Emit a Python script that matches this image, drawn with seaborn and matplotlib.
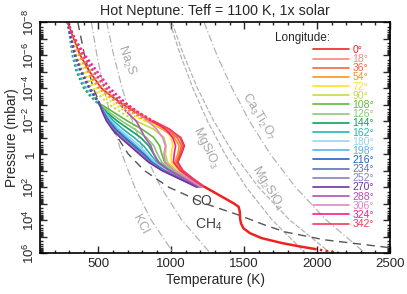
import numpy as np
import seaborn as sns
import matplotlib
matplotlib.use("Agg")
import matplotlib.pyplot as plt
from matplotlib.ticker import FixedLocator, LogLocator, MultipleLocator, NullFormatter, FuncFormatter

# ---- data ----
# upper part of the T-P profiles, log10(P / mbar)
lev_up = [-8, -7, -6, -5, -4, -3.5, -3, -2.5, -2, -1.5, -1, -0.5, 0, 0.5, 1, 1.5, 2]

longitudes = [0, 18, 36, 54, 72, 90, 108, 126, 144, 162,
              180, 198, 216, 234, 252, 270, 288, 306, 324, 342]
colors = ["#ee2222", "#f28a80", "#f06a3c", "#f7941d", "#ffe21a", "#c8d84a",
          "#62b83a", "#8cc77a", "#12a060", "#26b6b0", "#96d4ec", "#52b6e8",
          "#2262c0", "#6272b2", "#8a82c0", "#7232a0", "#b252b2", "#e486c4",
          "#ff1a8c", "#f23c5a"]

T_up = [
    [290, 330, 375, 440, 520, 590, 670, 760, 860, 980, 1065, 1090, 1070, 1045, 1080, 1150, 1230],
    [290, 330, 378, 445, 530, 600, 680, 770, 870, 985, 1060, 1080, 1060, 1040, 1075, 1145, 1230],
    [290, 328, 372, 435, 515, 585, 660, 750, 850, 960, 1040, 1070, 1055, 1035, 1070, 1140, 1225],
    [290, 325, 365, 425, 500, 570, 640, 730, 830, 940, 1020, 1055, 1045, 1025, 1065, 1140, 1225],
    [290, 320, 355, 410, 480, 545, 610, 700, 820, 960, 1000, 1010, 1000, 1000, 1050, 1135, 1220],
    [290, 315, 345, 395, 460, 515, 575, 660, 760, 880, 950, 965, 960, 975, 1035, 1125, 1215],
    [290, 310, 330, 365, 420, 470, 520, 610, 700, 800, 880, 920, 935, 955, 1020, 1115, 1210],
    [290, 308, 325, 355, 405, 450, 510, 580, 660, 750, 830, 880, 905, 935, 1005, 1105, 1205],
    [290, 307, 322, 350, 400, 445, 505, 560, 630, 710, 790, 845, 880, 915, 990, 1095, 1200],
    [290, 308, 326, 358, 410, 455, 505, 550, 605, 670, 745, 810, 855, 900, 975, 1085, 1195],
    [290, 310, 332, 370, 425, 465, 510, 545, 590, 645, 715, 780, 835, 885, 965, 1075, 1190],
    [290, 312, 338, 378, 435, 472, 510, 540, 580, 630, 695, 760, 820, 875, 955, 1070, 1185],
    [290, 314, 342, 385, 442, 478, 512, 538, 572, 618, 680, 745, 810, 865, 950, 1065, 1180],
    [290, 314, 342, 385, 442, 478, 511, 535, 565, 608, 668, 735, 800, 858, 945, 1060, 1178],
    [290, 313, 340, 382, 440, 476, 510, 532, 560, 600, 660, 725, 790, 850, 940, 1058, 1176],
    [290, 312, 338, 380, 438, 474, 509, 530, 556, 595, 650, 715, 780, 845, 935, 1055, 1175],
    [290, 335, 395, 470, 555, 610, 650, 700, 760, 790, 820, 860, 880, 910, 985, 1090, 1195],
    [290, 340, 410, 495, 580, 640, 700, 770, 840, 900, 940, 960, 950, 960, 1020, 1115, 1205],
    [290, 338, 405, 490, 575, 635, 700, 780, 870, 960, 1010, 1030, 1020, 1015, 1060, 1140, 1225],
    [290, 335, 390, 465, 550, 615, 690, 780, 880, 990, 1060, 1085, 1065, 1042, 1078, 1148, 1230],
]
# profiles are dotted above this level (log10 mbar)
split = [-8, -2, -2, -2, -2, -2, -3, -3, -3, -3,
         -3, -3, -3, -3, -3, -3, -2.5, -2, -2, -2]

# deep part shared by all longitudes
lev_deep = [2, 2.5, 3.0, 3.2, 3.5, 3.9, 4.2, 4.5, 4.8, 5.1, 5.4, 5.6, 5.75]
T_deep = [1230, 1330, 1430, 1462, 1470, 1472, 1478, 1495, 1540, 1620, 1760, 1880, 1980]
lev_tail = [5.75, 5.9, 6.0]
T_tail = [1980, 2080, 2150]

# condensation curves
cond_lev = [-8, -6, -4, -2, 0, 2, 4, 6]
T_KCl = [452, 490, 537, 593, 662, 749, 862, 1016]
T_Na2S = [557, 605, 663, 733, 819, 928, 1072, 1267]
T_MgSiO3 = [989, 1063, 1148, 1248, 1368, 1513, 1692, 1919]
T_Mg2SiO4 = [1004, 1085, 1179, 1292, 1429, 1597, 1812, 2092]
T_CaTi = [1224, 1313, 1416, 1536, 1679, 1851, 2063, 2329]

# CO = CH4 boundary
co_lev = [-8, -6, -4, -2, 0, 1, 2, 3, 3.7, 4.3, 4.73, 5.2, 5.64, 5.7]
co_T = [359, 405, 465, 560, 705, 815, 980, 1230, 1463, 1640, 1784, 2050, 2465, 2500]

# ---- figure ----
sns.set_style("ticks")
plt.rcParams['font.family'] = ['Liberation Sans', 'DejaVu Sans']
plt.rcParams['mathtext.fontset'] = 'custom'
plt.rcParams['mathtext.rm'] = 'Liberation Sans'
plt.rcParams['mathtext.it'] = 'Liberation Sans:italic'

fig = plt.figure(figsize=(4.07, 2.94), dpi=100)
ax = fig.add_axes([40 / 407, 41 / 294, 350 / 407, 231 / 294])
ax.set_yscale('log')

P = lambda lev: 10.0 ** np.array(lev, dtype=float)

gray = "#b4b4b4"
for Tc in [T_KCl, T_Na2S, T_CaTi]:
    sns.lineplot(x=Tc, y=P(cond_lev), sort=False, estimator=None, color=gray,
                 lw=0.9, linestyle=(0, (6, 2, 1, 2)), ax=ax)
for Tc in [T_MgSiO3, T_Mg2SiO4]:
    sns.lineplot(x=Tc, y=P(cond_lev), sort=False, estimator=None, color=gray,
                 lw=0.9, linestyle=(0, (4, 1.5)), ax=ax)
sns.lineplot(x=co_T, y=P(co_lev), sort=False, estimator=None, color="#555555",
             lw=1.0, linestyle=(0, (6, 4)), ax=ax)

handles = []
for lon, col, T, sp in zip(longitudes, colors, T_up, split):
    lev = np.array(lev_up)
    T = np.array(T)
    up = lev <= sp
    lo = lev >= sp
    if up.sum() > 1:
        sns.lineplot(x=T[up], y=P(lev[up]), sort=False, estimator=None, color=col,
                     lw=1.5, linestyle=(0, (1, 1.3)), ax=ax)
    sns.lineplot(x=T[lo], y=P(lev[lo]), sort=False, estimator=None, color=col,
                 lw=1.2, ax=ax)
    handles.append(ax.lines[-1])

sns.lineplot(x=T_deep, y=P(lev_deep), sort=False, estimator=None, color=colors[0], lw=1.8, ax=ax)
sns.lineplot(x=T_tail, y=P(lev_tail), sort=False, estimator=None, color=colors[0],
             lw=1.8, linestyle=(0, (1, 1.3)), ax=ax)

# curve labels
lab = dict(color="#a8a8a8", fontsize=9, ha='center', va='center', rotation_mode='anchor')
ax.text(693, 10 ** -5.7, "Na$_2$S", rotation=-70, **lab)
ax.text(1238, 10 ** -0.36, "MgSiO$_3$", rotation=-64, **lab)
ax.text(1600, 10 ** -2.24, "Ca$_3$Ti$_2$O$_7$", rotation=-58, **lab)
ax.text(1661, 10 ** 2.06, "Mg$_2$SiO$_4$", rotation=-58, **lab)
ax.text(788, 10 ** 4.3, "KCl", rotation=-62, **lab)
ax.text(1211, 10 ** 2.85, "CO", color="#404040", fontsize=10, ha='center', va='center')
ax.text(1259, 10 ** 4.3, "CH$_4$", color="#404040", fontsize=10, ha='center', va='center')

# axes
ax.set_xlim(100, 2500)
ax.set_ylim(1e6, 1e-8)
ax.xaxis.set_major_locator(FixedLocator([500, 1000, 1500, 2000, 2500]))
ax.xaxis.set_minor_locator(MultipleLocator(100))
ax.yaxis.set_major_locator(FixedLocator(10.0 ** np.arange(-8, 7)))
ax.yaxis.set_minor_locator(LogLocator(base=10, subs=np.arange(2, 10), numticks=100))
ax.yaxis.set_minor_formatter(NullFormatter())


def yfmt(v, pos):
    e = int(round(np.log10(v)))
    if e % 2:
        return ""
    return "1" if e == 0 else "$10^{%d}$" % e


ax.yaxis.set_major_formatter(FuncFormatter(yfmt))
ax.tick_params(which='both', direction='in', top=True, right=True, width=1, labelsize=9.5)
ax.tick_params(which='major', length=5)
ax.tick_params(which='minor', length=2.5)
ax.tick_params(axis='y', labelrotation=90, pad=2)
for t in ax.get_yticklabels():
    t.set_va('center')
for s in ax.spines.values():
    s.set_linewidth(1.2)
    s.set_color('black')

ax.set_xlabel("Temperature (K)", fontsize=9.8, labelpad=2)
ax.set_ylabel("Pressure (mbar)", fontsize=9.8, labelpad=2)
ax.set_title("Hot Neptune: Teff = 1100 K, 1x solar", fontsize=10.3, pad=5)

ax.text((275 - 40) / 350, 1 - (38 - 22) / 231, "Longitude:", transform=ax.transAxes,
        fontsize=8.5, ha='left', va='center')
leg = ax.legend(handles, ["%d°" % l for l in longitudes], loc='upper left',
                bbox_to_anchor=((313 - 40) / 350, 1 - (45 - 22) / 231),
                fontsize=7.5, handlelength=3.5, handletextpad=0.3, labelspacing=-0.08,
                borderpad=0, borderaxespad=0, frameon=False)
for txt, col in zip(leg.get_texts(), colors):
    txt.set_color(col)

fig.savefig("out.png", dpi=100)
